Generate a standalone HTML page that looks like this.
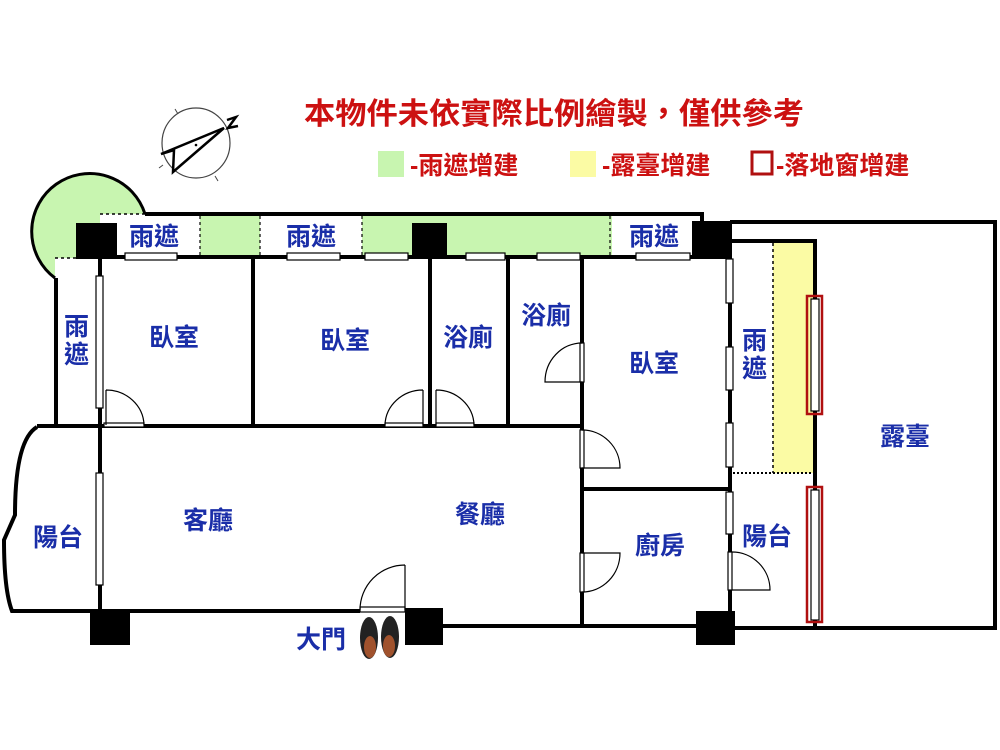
<!DOCTYPE html>
<html><head><meta charset="utf-8"><style>
html,body{margin:0;padding:0;background:#fff;}
svg{display:block;}
text{font-family:"Liberation Sans","Noto Sans CJK TC",sans-serif;font-weight:bold;}
.b{fill:#1a2ea8;font-size:25px;}
.r{fill:#cc1111;font-size:30px;}
.l{fill:#cc1111;font-size:25px;}
</style></head><body>
<svg width="1000" height="750" viewBox="0 0 1000 750" xmlns="http://www.w3.org/2000/svg">
<!-- compass -->
<ellipse cx="196" cy="143" rx="34" ry="35" fill="none" stroke="#444" stroke-width="1.2"/>
<line x1="175" y1="109" x2="178" y2="114" stroke="#444"/>
<line x1="215" y1="176" x2="218" y2="181" stroke="#444"/>
<line x1="163" y1="165" x2="159" y2="168" stroke="#444"/>
<polygon points="224,128 161,154 174,150 173,172" fill="none" stroke="#000" stroke-width="2.5" stroke-linejoin="miter"/>
<polyline points="227,120 236,117 228,128 238,126" fill="none" stroke="#000" stroke-width="2.5"/>
<circle cx="196" cy="145" r="1.3" fill="#000"/>
<!-- title & legend -->
<text x="304" y="124" class="r" textLength="500" lengthAdjust="spacingAndGlyphs">本物件未依實際比例繪製，僅供參考</text>
<rect x="378" y="151" width="26" height="26" fill="#c8f5b0"/>
<text x="410" y="174" class="l">-雨遮增建</text>
<rect x="570" y="151" width="26" height="26" fill="#fbfba4"/>
<text x="602" y="174" class="l">-露臺增建</text>
<rect x="752" y="152" width="20" height="22" fill="none" stroke="#b01010" stroke-width="3"/>
<text x="776" y="174" class="l">-落地窗增建</text>

<!-- green quarter circle -->
<path d="M145,214 A58,58 0 1 0 55,278 L55,258 L100,258 L100,214 Z" fill="#c8f5b0"/>
<path d="M145,214 A58,58 0 1 0 55,278" fill="none" stroke="#000" stroke-width="3"/>
<line x1="100" y1="214" x2="145" y2="214" stroke="#000" stroke-width="1.5" stroke-dasharray="3,3"/>
<line x1="55" y1="258" x2="78" y2="258" stroke="#000" stroke-width="1.5" stroke-dasharray="3,3"/>
<!-- green strips -->
<rect x="200" y="216" width="60" height="39" fill="#c8f5b0"/>
<rect x="362" y="216" width="250" height="39" fill="#c8f5b0"/>
<line x1="200" y1="216" x2="200" y2="255" stroke="#000" stroke-width="1.2" stroke-dasharray="3,3"/>
<line x1="260" y1="216" x2="260" y2="255" stroke="#000" stroke-width="1.2" stroke-dasharray="3,3"/>
<line x1="362" y1="216" x2="362" y2="255" stroke="#000" stroke-width="1.2" stroke-dasharray="3,3"/>
<line x1="610" y1="216" x2="610" y2="255" stroke="#000" stroke-width="1.2" stroke-dasharray="3,3"/>
<!-- yellow terrace addition -->
<rect x="773" y="243" width="40" height="230" fill="#fbfba4"/>
<line x1="773" y1="243" x2="773" y2="473" stroke="#000" stroke-width="1.5" stroke-dasharray="3,3"/>
<line x1="733" y1="473" x2="815" y2="473" stroke="#000" stroke-width="2" stroke-dasharray="2,2"/>

<g stroke="#000" fill="none" stroke-width="4">
<polyline points="145,214 702,214 702,222"/>
<polyline points="730,222 995,222 995,628 735,628"/>
<polyline points="732,241 815,241 815,628"/>
<line x1="76" y1="257" x2="730" y2="257"/>
<line x1="56" y1="278" x2="56" y2="425"/>
<line x1="100" y1="257" x2="100" y2="612"/>
<line x1="37" y1="426" x2="584" y2="426"/>
<line x1="253" y1="257" x2="253" y2="426"/>
<line x1="430" y1="257" x2="430" y2="426"/>
<line x1="508" y1="257" x2="508" y2="426"/>
<line x1="582" y1="257" x2="582" y2="626"/>
<line x1="730" y1="257" x2="730" y2="628"/>
<line x1="582" y1="489" x2="730" y2="489"/>
<line x1="100" y1="611" x2="360" y2="611"/>
<line x1="443" y1="626" x2="700" y2="626"/>
<path d="M37,427 Q15,440 15,515 L4,540 Q4,590 12,611 L100,611"/>
</g>
<!-- columns -->
<g fill="#000">
<rect x="76" y="223" width="41" height="36"/>
<rect x="412" y="223" width="35" height="36"/>
<rect x="692" y="221" width="40" height="38"/>
<rect x="90" y="610" width="40" height="35"/>
<rect x="405" y="608" width="38" height="37"/>
<rect x="696" y="611" width="39" height="34"/>
</g>
<!-- windows -->
<g fill="#fff" stroke="#000" stroke-width="1.2">
<rect x="125" y="253" width="52" height="7"/>
<rect x="287" y="253" width="53" height="7"/>
<rect x="365" y="253" width="43" height="7"/>
<rect x="466" y="253" width="39" height="7"/>
<rect x="537" y="253" width="43" height="7"/>
<rect x="636" y="253" width="54" height="7"/>
<rect x="96" y="276" width="7" height="132"/>
<rect x="96" y="473" width="7" height="112"/>
<rect x="726" y="259" width="7" height="44"/>
<rect x="726" y="347" width="7" height="43"/>
<rect x="726" y="423" width="7" height="44"/>
<rect x="726" y="492" width="7" height="42"/>
<rect x="811" y="299" width="8" height="112"/>
<rect x="811" y="490" width="8" height="130"/>
</g>
<g fill="none" stroke="#b01010" stroke-width="2.5">
<rect x="807" y="296" width="15" height="118"/>
<rect x="807" y="487" width="15" height="135"/>
</g>
<!-- doors -->
<g fill="#fff" stroke="#000" stroke-width="1.2">
<rect x="104" y="423" width="40" height="4"/>
<rect x="385" y="423" width="38" height="4"/>
<rect x="436" y="423" width="38" height="4"/>
<rect x="580" y="343" width="4" height="39"/>
<rect x="580" y="430" width="4" height="38"/>
<rect x="580" y="553" width="4" height="39"/>
<rect x="728" y="552" width="4" height="38"/>
<rect x="360" y="607" width="45" height="5"/>
</g>
<g fill="none" stroke="#000" stroke-width="1.2">
<path d="M106,390 A38,36 0 0 1 144,425 M106,390 L106,425"/>
<path d="M423,390 A38,36 0 0 0 385,425 M423,390 L423,425"/>
<path d="M436,390 A38,36 0 0 1 474,425 M436,390 L436,425"/>
<path d="M582,343 A37,39 0 0 0 545,382 L582,382"/>
<path d="M582,430 A38,38 0 0 1 620,468 L582,468"/>
<path d="M582,553 L620,553 A38,39 0 0 1 582,592"/>
<path d="M732,552 A38,38 0 0 1 770,590 L732,590"/>
<path d="M405,565 A45,45 0 0 0 360,610 M405,565 L405,610"/>
</g>
<!-- shoes -->
<ellipse cx="369" cy="638" rx="9" ry="21" fill="#222"/>
<ellipse cx="390" cy="637" rx="9" ry="21" fill="#222"/>
<ellipse cx="370" cy="647" rx="6" ry="11" fill="#a0522d"/>
<ellipse cx="389" cy="646" rx="6" ry="11" fill="#a0522d"/>

<!-- labels -->
<text x="129" y="245" class="b">雨遮</text>
<text x="286" y="245" class="b">雨遮</text>
<text x="629" y="245" class="b">雨遮</text>
<text x="64" y="335" class="b">雨</text>
<text x="64" y="363" class="b">遮</text>
<text x="149" y="346" class="b">臥室</text>
<text x="320" y="349" class="b">臥室</text>
<text x="443" y="346" class="b">浴廁</text>
<text x="521" y="324" class="b">浴廁</text>
<text x="629" y="372" class="b">臥室</text>
<text x="742" y="349" class="b">雨</text>
<text x="742" y="377" class="b">遮</text>
<text x="880" y="445" class="b">露臺</text>
<text x="33" y="546" class="b">陽台</text>
<text x="183" y="529" class="b">客廳</text>
<text x="455" y="523" class="b">餐廳</text>
<text x="635" y="554" class="b">廚房</text>
<text x="742" y="545" class="b">陽台</text>
<text x="296" y="648" class="b">大門</text>
</svg>
</body></html>
